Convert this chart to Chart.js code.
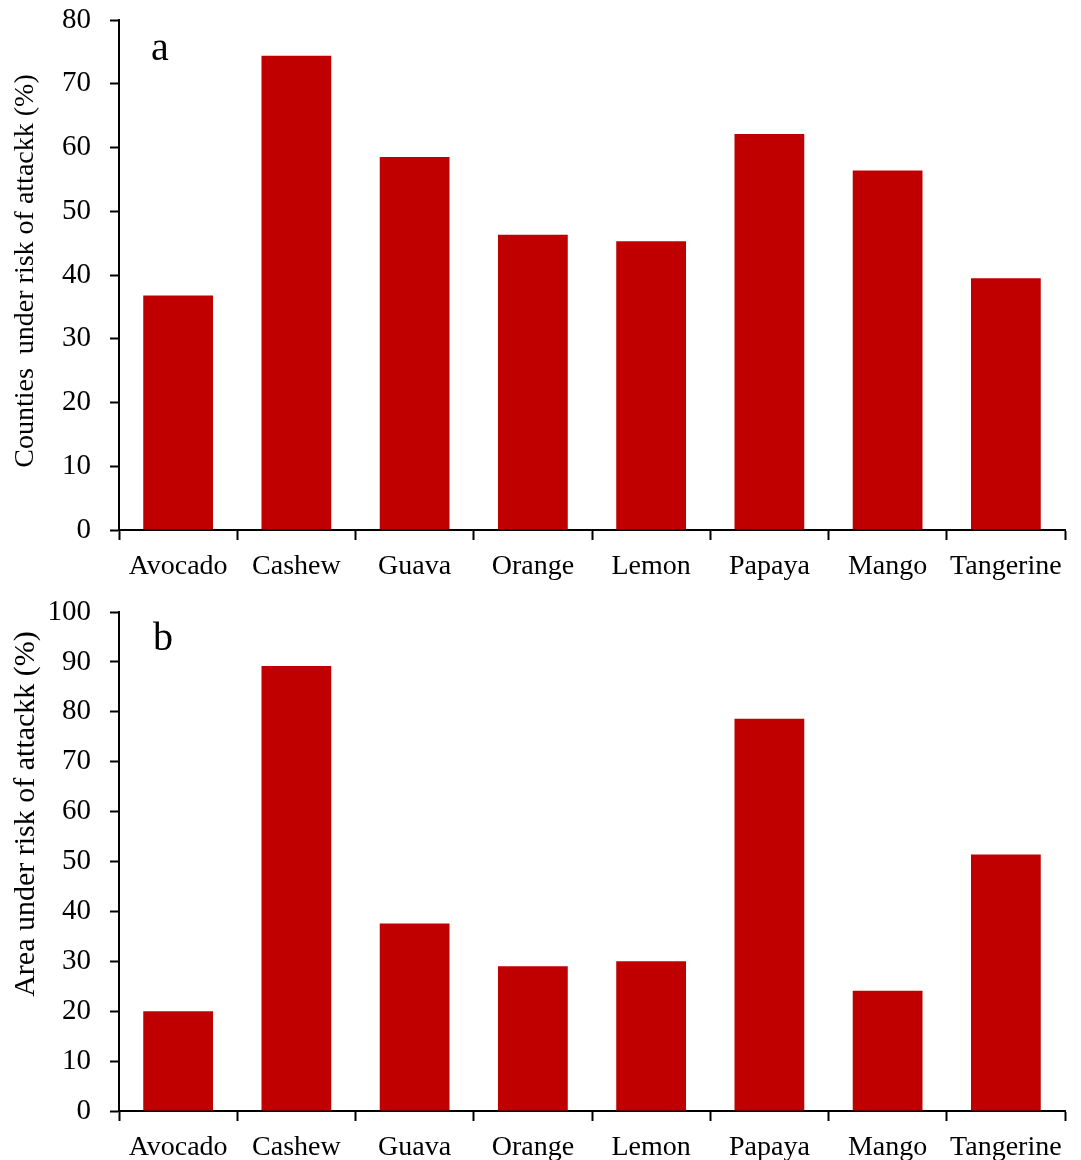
<!DOCTYPE html>
<html>
<head>
<meta charset="utf-8">
<script src="https://cdn.jsdelivr.net/npm/chart.js@4/dist/chart.umd.min.js"></script>
<style>
  body { margin: 0; background: #fff; }
  canvas { display: block; }
</style>
</head>
<body>
<canvas id="chartA" width="1081" height="580"></canvas>
<canvas id="chartB" width="1081" height="580"></canvas>
<script>
// Data
const categories = ['Avocado', 'Cashew', 'Guava', 'Orange', 'Lemon', 'Papaya', 'Mango', 'Tangerine'];
const countiesAtRisk = [36.8, 74.4, 58.5, 46.3, 45.3, 62.1, 56.4, 39.5];
const areaAtRisk = [20.0, 89.2, 37.6, 29.0, 30.0, 78.6, 24.1, 51.4];
const countiesTicks = [0, 10, 20, 30, 40, 50, 60, 70, 80];
const areaTicks = [0, 10, 20, 30, 40, 50, 60, 70, 80, 90, 100];
const countiesTitle = 'Counties  under risk of attackk (%)';
const areaTitle = 'Area under risk of attackk (%)';

const serif = "'Liberation Serif', 'Times New Roman', serif";
const barColor = '#c00000';

// axis title + panel letter drawn by hand (so they can sit where the original puts them)
const extraText = {
  id: 'extraText',
  afterDraw(chart, args, opts) {
    const ctx = chart.ctx;
    ctx.save();
    ctx.fillStyle = '#000';
    ctx.font = '40px ' + serif;
    ctx.textAlign = 'left';
    ctx.textBaseline = 'alphabetic';
    ctx.fillText(opts.letter, opts.letterX, opts.letterY);

    ctx.translate(opts.titleX, opts.titleY);
    ctx.rotate(-Math.PI / 2);
    ctx.font = opts.titleSize + 'px ' + serif;
    ctx.textAlign = 'center';
    ctx.textBaseline = 'middle';
    ctx.fillText(opts.title, 0, 0);
    ctx.restore();
  }
};

function makeChart(id, values, ticks, title, extra, padTop, xHeight) {
  const ctx = document.getElementById(id).getContext('2d');
  return new Chart(ctx, {
    type: 'bar',
    data: {
      labels: categories,
      datasets: [{
        data: values,
        backgroundColor: barColor,
        borderWidth: 0,
        barPercentage: 0.59,
        categoryPercentage: 1
      }]
    },
    options: {
      responsive: false,
      animation: false,
      events: [],
      layout: { padding: { top: padTop, right: 16, left: 0, bottom: 0 } },
      plugins: {
        legend: { display: false },
        tooltip: { enabled: false },
        extraText: Object.assign({ title: title }, extra)
      },
      scales: {
        x: {
          offset: true,
          grid: {
            offset: true,
            drawOnChartArea: false,
            drawTicks: true,
            tickLength: 10,
            tickWidth: 2,
            tickColor: '#000'
          },
          border: { display: true, color: '#000', width: 2 },
          ticks: { color: '#000', padding: 10, font: { family: serif, size: 28 } },
          afterFit(scale) { scale.height = xHeight; }
        },
        y: {
          min: ticks[0],
          max: ticks[ticks.length - 1],
          afterBuildTicks(scale) { scale.ticks = ticks.map(v => ({ value: v })); },
          grid: {
            drawOnChartArea: false,
            drawTicks: true,
            tickLength: 9,
            tickWidth: 2,
            tickColor: '#000'
          },
          border: { display: true, color: '#000', width: 2 },
          ticks: { color: '#000', padding: 19, font: { family: serif, size: 29 } },
          afterFit(scale) {
            scale.width = 119;
            scale.paddingTop = 0;
            scale.paddingBottom = 0;
          }
        }
      }
    },
    plugins: [extraText]
  });
}

makeChart('chartA', countiesAtRisk, countiesTicks, countiesTitle,
  { letter: 'a', letterX: 151, letterY: 60, titleX: 26, titleY: 271, titleSize: 28 }, 20, 50);
makeChart('chartB', areaAtRisk, areaTicks, areaTitle,
  { letter: 'b', letterX: 153, letterY: 70, titleX: 26, titleY: 234, titleSize: 30 }, 32, 49);
</script>
</body>
</html>
